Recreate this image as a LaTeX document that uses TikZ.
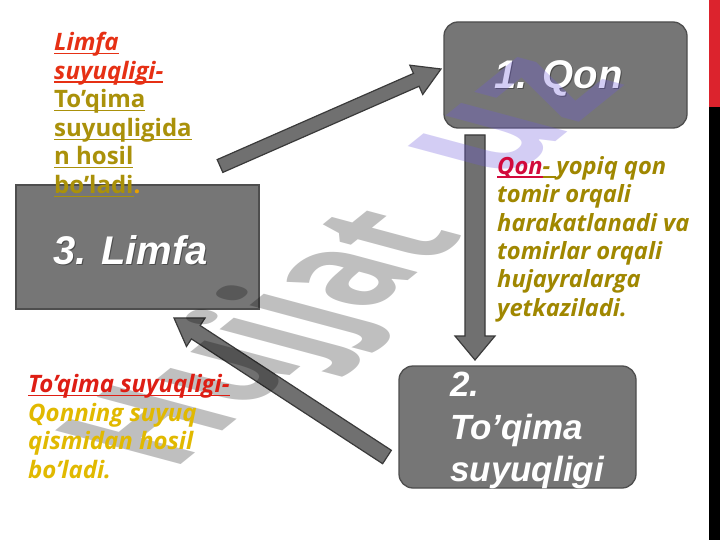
\documentclass[tikz,border=0pt]{standalone}
\usepackage{fontspec}
\setmainfont{Open Sans}
\newfontfamily\boxfont{Liberation Sans}
\usetikzlibrary{calc}
\definecolor{boxfill}{RGB}{118,118,118}
\definecolor{boxline}{RGB}{78,78,78}
\definecolor{arrfill}{RGB}{112,112,112}
\definecolor{arrline}{RGB}{58,58,58}
\definecolor{redA}{RGB}{230,48,20}
\definecolor{oliveA}{RGB}{170,145,10}
\definecolor{orangeA}{RGB}{232,160,0}
\definecolor{crimB}{RGB}{210,10,60}
\definecolor{oliveB}{RGB}{160,135,0}
\definecolor{redC}{RGB}{222,30,20}
\definecolor{yellowC}{RGB}{225,185,0}
\definecolor{barred}{RGB}{220,35,45}
\definecolor{wmgray}{RGB}{0,0,0}
\definecolor{wmpurple}{RGB}{110,90,220}
\newsavebox\ulbox
\newcommand{\myul}[1]{\sbox\ulbox{#1}\rlap{\rule[-3.5pt]{\wd\ulbox}{1.3pt}}\usebox\ulbox}
\tikzset{
  rbox/.style={draw=boxline, fill=boxfill, line width=1.3pt, rounded corners=14pt, inner sep=0pt},
  sbox/.style={draw=boxline, fill=boxfill, line width=1.3pt, inner sep=0pt},
  boxlabel/.style={text=white, font=\boxfont\bfseries\itshape\fontsize{40}{44}\selectfont, inner sep=0pt},
  arrowstyle/.style={fill=arrfill, draw=arrline, line width=1.2pt, line join=miter},
  note/.style={font=\bfseries\fontsize{24}{28.6}\selectfont, align=left, anchor=north west, inner sep=0pt},
  wm/.style={font=\bfseries\fontsize{140}{140}\selectfont, cm={0.684,0.553,-1.256,0.337,(0,0)}, inner sep=0pt}
}
\newcommand{\blkarrow}[5]{%
  \coordinate (hb) at ($(#2)!#5!(#1)$);
  \filldraw[arrowstyle] ($(#1)!#3!90:(#2)$) -- ($(hb)!#3!90:(#2)$) -- ($(hb)!#4!90:(#2)$) -- (#2)
    -- ($(hb)!#4!-90:(#2)$) -- ($(hb)!#3!-90:(#2)$) -- ($(#1)!#3!-90:(#2)$) -- cycle;
}
\begin{document}
\begin{tikzpicture}[x=1pt, y=-1pt]
\useasboundingbox (0,0) rectangle (720,540);
\fill[white] (0,0) rectangle (720,540);
% right edge bars
\fill[barred] (709,0) rectangle (720,107);
\fill[black] (709,107) rectangle (720,540);
% boxes
\node[rbox, minimum width=243pt, minimum height=106pt] (qon) at (565.5,75) {};
\node[sbox, minimum width=243pt, minimum height=124pt] (limfa) at (137.5,247) {};
\node[rbox, minimum width=237pt, minimum height=122pt] (toq) at (517.5,427) {};
% box labels
\node[boxlabel, text=black!70] at (559.5,79.5) {1. Qon};
\node[boxlabel] (qonlab) at (558.5,78.5) {1. Qon};
\node[boxlabel, text=black!70] at (131.5,251.5) {3. Limfa};
\node[boxlabel] (limlab) at (130.5,250.5) {3. Limfa};
\node[boxlabel, font=\boxfont\bfseries\itshape\fontsize{35}{42.5}\selectfont, align=left, anchor=north west] (toqlab) at (450,372) {2.\\To’qima\\suyuqligi};
% arrows
\coordinate (a1s) at (220,166);
\coordinate (a1e) at (441,69);
\coordinate (a2s) at (475,135);
\coordinate (a2e) at (475,360);
\coordinate (a3s) at (387,457);
\coordinate (a3e) at (174,318);
\blkarrow{a1s}{a1e}{7pt}{16pt}{27pt}
\blkarrow{a2s}{a2e}{10pt}{20pt}{24pt}
\blkarrow{a3s}{a3e}{8pt}{17pt}{26pt}
% watermark
\node[wm, text=wmgray, opacity=0.25] (wm1) at (274,340) {Hujjat};
\node[wm, text=wmpurple, opacity=0.3, font=\bfseries\fontsize{155}{155}\selectfont] (wm2) at (515,118) {uz};
% notes
\node[note] (tl) at (54,32) {%
\textcolor{redA}{\itshape\myul{Limfa}}\\
\textcolor{redA}{\itshape\myul{suyuqligi-}}\\
\textcolor{oliveA}{\myul{To’qima}}\\
\textcolor{oliveA}{\myul{suyuqligida}}\\
\textcolor{oliveA}{\myul{n hosil}}\\
\textcolor{oliveA}{\myul{bo’ladi}}\textcolor{orangeA}{.}};
\node[note, font=\bfseries\itshape\fontsize{23.7}{28.4}\selectfont] (rt) at (497,156) {%
\textcolor{crimB}{\myul{Qon}}\textcolor{oliveB}{\myul{-\ }yopiq qon}\\
\textcolor{oliveB}{tomir orqali}\\
\textcolor{oliveB}{harakatlanadi va}\\
\textcolor{oliveB}{tomirlar orqali}\\
\textcolor{oliveB}{hujayralarga}\\
\textcolor{oliveB}{yetkaziladi.}};
\node[note, font=\bfseries\itshape\fontsize{24}{28.7}\selectfont] (bl) at (28,374) {%
\textcolor{redC}{\myul{To’qima suyuqligi-}}\\
\textcolor{yellowC}{Qonning suyuq}\\
\textcolor{yellowC}{qismidan hosil}\\
\textcolor{yellowC}{bo’ladi.}};
\end{tikzpicture}
\end{document}
